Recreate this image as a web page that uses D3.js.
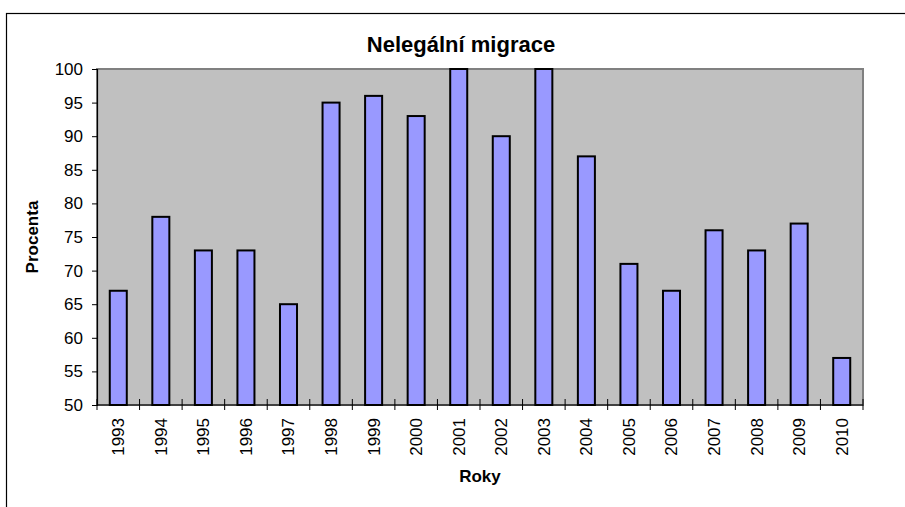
<!DOCTYPE html>
<html>
<head>
<meta charset="utf-8">
<script src="https://cdn.jsdelivr.net/npm/d3@7"></script>
<style>
  body { margin: 0; background: #fff; }
  svg text { font-family: Arial, "Liberation Sans", sans-serif; fill: #000; }
</style>
</head>
<body>
<div id="chart"></div>
<script>
// chart data
const years = ["1993", "1994", "1995", "1996", "1997", "1998", "1999", "2000", "2001",
               "2002", "2003", "2004", "2005", "2006", "2007", "2008", "2009", "2010"];
const percent = [67, 78, 73, 73, 65, 95, 96, 93, 100, 90, 100, 87, 71, 67, 76, 73, 77, 57];
const yTicks = [50, 55, 60, 65, 70, 75, 80, 85, 90, 95, 100];

const width = 905, height = 507;
const plot = { left: 97, top: 69, right: 863, bottom: 405 };

const svg = d3.select("#chart")
    .append("svg")
    .attr("width", width)
    .attr("height", height);

// outer chart frame (right and bottom edges run off the picture)
svg.append("rect")
    .attr("x", 6.5)
    .attr("y", 13.5)
    .attr("width", 920)
    .attr("height", 520)
    .attr("fill", "none")
    .attr("stroke", "#000")
    .attr("stroke-width", 1.2);

const x = d3.scaleBand()
    .domain(years)
    .range([plot.left, plot.right])
    .paddingInner(0.6)
    .paddingOuter(0.3);

const y = d3.scaleLinear()
    .domain([50, 100])
    .range([plot.bottom, plot.top]);

// plot background
svg.append("rect")
    .attr("x", plot.left)
    .attr("y", plot.top)
    .attr("width", plot.right - plot.left)
    .attr("height", plot.bottom - plot.top)
    .attr("fill", "#c0c0c0")
    .attr("stroke", "#808080")
    .attr("stroke-width", 2);

// bars
svg.selectAll("rect.bar")
    .data(percent)
    .enter()
    .append("rect")
    .attr("class", "bar")
    .attr("x", (d, i) => x(years[i]))
    .attr("y", d => y(d))
    .attr("width", x.bandwidth())
    .attr("height", d => y(50) - y(d))
    .attr("fill", "#9999ff")
    .attr("stroke", "#000")
    .attr("stroke-width", 2);

// y axis
const yAxis = svg.append("g")
    .attr("transform", `translate(${plot.left},0)`)
    .call(d3.axisLeft(y).tickValues(yTicks).tickSize(5).tickPadding(9));
yAxis.select(".domain").attr("stroke", "#000").attr("stroke-width", 1.2);
yAxis.selectAll(".tick line").attr("stroke", "#000");
yAxis.selectAll("text")
    .attr("font-size", "17px")
    .attr("font-family", "Arial, 'Liberation Sans', sans-serif");

// x axis: ticks sit between categories
const xAxis = svg.append("g")
    .attr("transform", `translate(0,${plot.bottom})`);
xAxis.append("line")
    .attr("x1", plot.left)
    .attr("x2", plot.right)
    .attr("stroke", "#000")
    .attr("stroke-width", 1.2);

const step = x.step();
xAxis.selectAll("line.tick")
    .data(d3.range(years.length + 1))
    .enter()
    .append("line")
    .attr("class", "tick")
    .attr("x1", i => plot.left + i * step)
    .attr("x2", i => plot.left + i * step)
    .attr("y1", -6)
    .attr("y2", 5)
    .attr("stroke", "#000");

xAxis.selectAll("text")
    .data(years)
    .enter()
    .append("text")
    .attr("transform", d => `translate(${x(d) + x.bandwidth() / 2},13) rotate(-90)`)
    .attr("text-anchor", "end")
    .attr("dy", "0.35em")
    .attr("font-size", "17px")
    .text(d => d);

// titles
svg.append("text")
    .attr("x", 461)
    .attr("y", 52)
    .attr("text-anchor", "middle")
    .attr("font-size", "22px")
    .attr("font-weight", "bold")
    .text("Nelegální migrace");

svg.append("text")
    .attr("x", (plot.left + plot.right) / 2)
    .attr("y", 482)
    .attr("text-anchor", "middle")
    .attr("font-size", "17px")
    .attr("font-weight", "bold")
    .text("Roky");

svg.append("text")
    .attr("transform", `translate(32,${(plot.top + plot.bottom) / 2}) rotate(-90)`)
    .attr("text-anchor", "middle")
    .attr("dy", "0.35em")
    .attr("font-size", "17px")
    .attr("font-weight", "bold")
    .text("Procenta");
</script>
</body>
</html>
